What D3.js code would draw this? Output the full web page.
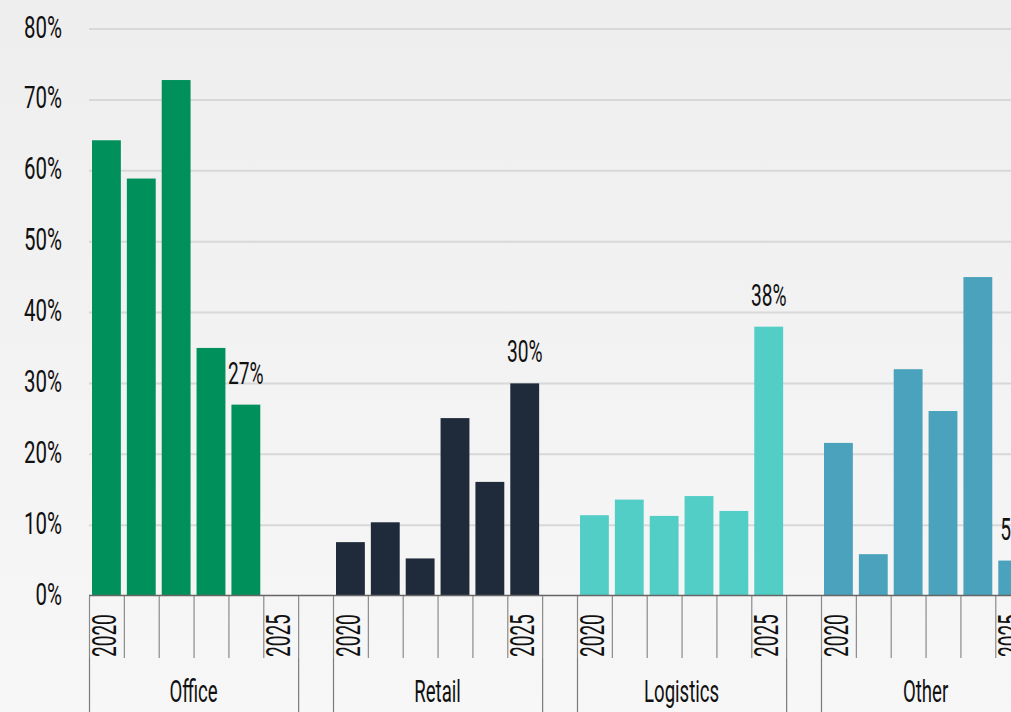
<!DOCTYPE html>
<html>
<head>
<meta charset="utf-8">
<script src="https://cdn.jsdelivr.net/npm/d3@7"></script>
<style>
  html, body { margin: 0; padding: 0; background: #f3f3f3; }
  svg { display: block; }
  text { font-family: Roboto, "Noto Sans", sans-serif; fill: #111; }
</style>
</head>
<body>
<script>
// Chart data
const groups = ["Office", "Retail", "Logistics", "Other"];
const years = ["2020", "2021", "2022", "2023", "2024", "2025"];
const officeValues = [64.3, 58.9, 72.8, 35, 27, null];
const retailValues = [7.6, 10.4, 5.3, 25.1, 16.1, 30];
const logisticsValues = [11.4, 13.6, 11.3, 14.1, 12, 38];
const otherValues = [21.6, 5.9, 32, 26.1, 45, 5];
const yTickValues = [0, 10, 20, 30, 40, 50, 60, 70, 80];
const yearTickLabels = ["2020", "2025"];

const seriesValues = {
    Office: officeValues,
    Retail: retailValues,
    Logistics: logisticsValues,
    Other: otherValues
};

const color = d3.scaleOrdinal()
    .domain(groups)
    .range(["#00905b", "#1f2b3a", "#52cec6", "#4aa2bc"]);

let width = 1011;
let height = 712;
let marginLeft = 89;
let marginTop = 29;
let axisY = 596;
let slotStep = 34.857;

// one slot per year plus an empty slot after every group
let slots = [];
groups.forEach(g => {
    years.forEach(y => slots.push(g + "|" + y));
    slots.push(g + "|gap");
});

let x = d3.scaleBand()
    .domain(slots)
    .range([marginLeft, marginLeft + slots.length * slotStep])
    .padding(0);

let y = d3.scaleLinear()
    .domain([0, 80])
    .range([axisY, marginTop]);

let svg = d3.select("body").append("svg")
    .attr("width", width)
    .attr("height", height)
    .attr("viewBox", [0, 0, width, height]);

// Background gradient
let grad = svg.append("defs").append("linearGradient")
    .attr("id", "bg")
    .attr("x1", 0).attr("y1", 0).attr("x2", 0).attr("y2", 1);
grad.append("stop").attr("offset", "0%").attr("stop-color", "#eeeeee");
grad.append("stop").attr("offset", "100%").attr("stop-color", "#f7f7f7");
svg.append("rect")
    .attr("width", width)
    .attr("height", height)
    .attr("fill", "url(#bg)");

// Horizontal grid lines
svg.append("g")
    .selectAll("line")
    .data(yTickValues.filter(d => d > 0))
    .join("line")
    .attr("x1", marginLeft)
    .attr("x2", width)
    .attr("y1", d => y(d))
    .attr("y2", d => y(d))
    .attr("stroke", "#d8d8d8")
    .attr("stroke-width", 2);

// Y axis labels (condensed look via horizontal squeeze)
svg.append("g")
    .selectAll("text")
    .data(yTickValues)
    .join("text")
    .attr("transform", d => `translate(62,${y(d) + 8.5}) scale(0.66,1)`)
    .attr("text-anchor", "end")
    .attr("font-size", 31)
    .attr("font-weight", 400)
    .text(d => d + "%");

// Bars
let barData = [];
groups.forEach(g => {
    seriesValues[g].forEach((v, i) => {
        if (v !== null) barData.push({ group: g, year: years[i], value: v });
    });
});

svg.append("g")
    .selectAll("rect")
    .data(barData)
    .join("rect")
    .attr("x", d => x(d.group + "|" + d.year) + 3)
    .attr("width", x.bandwidth() - 6)
    .attr("y", d => y(d.value))
    .attr("height", d => y(0) - y(d.value))
    .attr("fill", d => color(d.group));

// Value label on the last available bar of each group
let lastBars = groups.map(g => {
    let vals = seriesValues[g];
    let i = vals.length - 1;
    while (vals[i] === null) i--;
    return { group: g, year: years[i], value: vals[i] };
});

svg.append("g")
    .selectAll("text")
    .data(lastBars)
    .join("text")
    .attr("transform", d => `translate(${x(d.group + "|" + d.year) + x.bandwidth() / 2},${y(d.value) - 21}) scale(0.6,1)`)
    .attr("text-anchor", "middle")
    .attr("font-size", 32)
    .attr("font-weight", 400)
    .text(d => Math.round(d.value) + "%");

// Baseline
svg.append("line")
    .attr("x1", marginLeft)
    .attr("x2", width)
    .attr("y1", axisY - 0.5)
    .attr("y2", axisY - 0.5)
    .attr("stroke", "#666")
    .attr("stroke-width", 1.5);

// Year tick lines (every slot boundary)
svg.append("g")
    .selectAll("line")
    .data(slots)
    .join("line")
    .attr("x1", d => x(d) + 0.5)
    .attr("x2", d => x(d) + 0.5)
    .attr("y1", axisY)
    .attr("y2", 658)
    .attr("stroke", "#8a8a8a")
    .attr("stroke-width", 1.2);

// Year tick labels, rotated
svg.append("g")
    .selectAll("text")
    .data(slots.filter(s => yearTickLabels.includes(s.split("|")[1])))
    .join("text")
    .attr("transform", d => `translate(${x(d) + 27},657) rotate(-90) scale(0.56,1)`)
    .attr("text-anchor", "start")
    .attr("font-size", 34)
    .attr("font-weight", 400)
    .text(d => d.split("|")[1]);

// Group separators and group labels
let groupEdges = [];
groups.forEach(g => {
    groupEdges.push(x(g + "|2020"));
    groupEdges.push(x(g + "|gap"));
});

svg.append("g")
    .selectAll("line")
    .data(groupEdges)
    .join("line")
    .attr("x1", d => d + 0.5)
    .attr("x2", d => d + 0.5)
    .attr("y1", 658)
    .attr("y2", height)
    .attr("stroke", "#7a7a7a")
    .attr("stroke-width", 1.2);

svg.append("g")
    .selectAll("text")
    .data(groups)
    .join("text")
    .attr("transform", g => `translate(${(x(g + "|2020") + x(g + "|gap")) / 2},702) scale(0.6,1)`)
    .attr("text-anchor", "middle")
    .attr("font-size", 31)
    .attr("font-weight", 400)
    .text(g => g);
</script>
</body>
</html>
